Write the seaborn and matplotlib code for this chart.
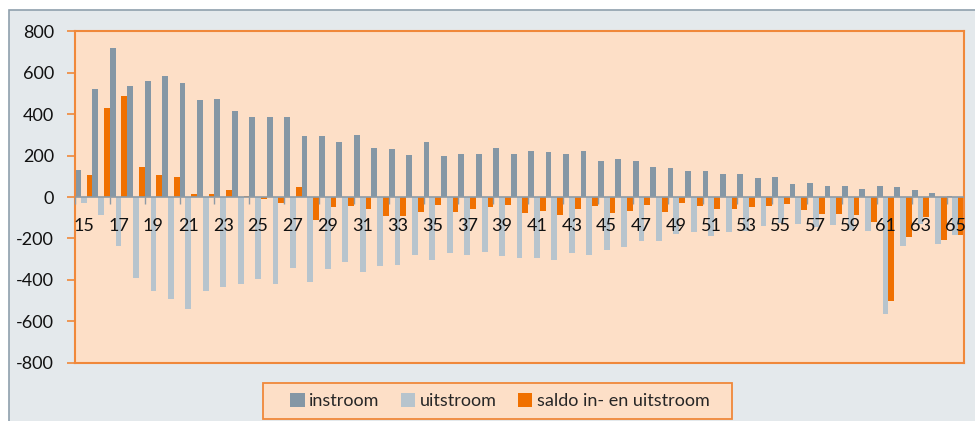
import numpy as np
import pandas as pd
import matplotlib
matplotlib.use("Agg")
import matplotlib.pyplot as plt
from matplotlib.patches import Rectangle
from matplotlib.ticker import FixedLocator
import seaborn as sns

ages = list(range(15, 66))
instroom = [132, 523, 720, 536, 559, 586, 551, 467, 473, 415,
            388, 388, 388, 296, 296, 267, 302, 239, 231, 204,
            267, 197, 210, 210, 239, 210, 225, 216, 210, 225,
            174, 183, 174, 147, 139, 124, 124, 111, 111, 90,
            97, 61, 68, 55, 55, 40, 55, 47, 32, 19, 3]
uitstroom = [-29, -86, -236, -393, -456, -490, -540, -456, -433, -420,
             -397, -420, -341, -412, -349, -313, -363, -334, -328, -278,
             -305, -271, -278, -263, -286, -292, -292, -305, -271, -278,
             -257, -242, -213, -213, -179, -171, -186, -171, -165, -142,
             -123, -129, -146, -135, -160, -163, -567, -235, -130, -227, -184]
saldo = [105, 431, 488, 147, 105, 97, 13, 13, 32, 3,
         -10, -29, 47, -113, -50, -44, -58, -92, -92, -73,
         -36, -73, -58, -50, -36, -78, -65, -86, -58, -44,
         -78, -65, -36, -73, -29, -44, -58, -58, -50, -43,
         -35, -64, -80, -80, -87, -121, -504, -193, -97, -206, -184]
series_names = ["instroom", "uitstroom", "saldo in- en uitstroom"]
y_ticks = [-800, -600, -400, -200, 0, 200, 400, 600, 800]

colors = ["#8597A5", "#B7C4CD", "#F07000"]
peach = "#FDDFC7"
frame_bg = "#E4E9EC"
orange_line = "#F0883A"
gray_axis = "#8E9BA6"

df = pd.DataFrame({
    "age": [str(a) for a in ages] * 3,
    "value": instroom + uitstroom + saldo,
    "series": sum([[n] * len(ages) for n in series_names], []),
})

sns.set_theme(style="white")
plt.rcParams["font.family"] = ["Lato", "DejaVu Sans"]
plt.rcParams["axes.unicode_minus"] = False

fig = plt.figure(figsize=(9.75, 4.21), dpi=100, facecolor="white")
bg = Rectangle((9 / 975, -0.01), 1.0, (421 - 10) / 421 + 0.01,
               transform=fig.transFigure, facecolor=frame_bg,
               edgecolor="#8FA0AD", linewidth=1.2, zorder=-10)
fig.patches.append(bg)
legbox = Rectangle((263 / 975, 1 - 419 / 421), (732 - 263) / 975, 36 / 421,
                   transform=fig.transFigure, facecolor=peach,
                   edgecolor=orange_line, linewidth=1.3, zorder=-5)
fig.patches.append(legbox)

ax = fig.add_axes([75 / 975, 1 - 362.7 / 421, (964 - 75) / 975, (362.7 - 31.5) / 421])
ax.set_facecolor(peach)

sns.barplot(data=df, x="age", y="value", hue="series", hue_order=series_names,
            palette=colors, width=1.0, dodge=True, ax=ax, legend=True,
            saturation=1, linewidth=0, zorder=2)

ax.set_xlim(-0.5, len(ages) - 0.5)
ax.set_ylim(-800, 800)
ax.set_yticks(y_ticks)
ax.set_yticklabels([str(v) for v in y_ticks])
ax.set_xlabel("")
ax.set_ylabel("")
ax.tick_params(axis="y", colors=orange_line, length=6, width=1.2, direction="out",
               pad=9, labelsize=13, labelcolor="#111111", left=True)
ax.tick_params(axis="x", bottom=False, labelbottom=False)
for s in ax.spines.values():
    s.set_color(orange_line)
    s.set_linewidth(1.5)
ax.grid(False)

ax.axhline(0, color=gray_axis, linewidth=1.2, zorder=3)

sec = ax.secondary_xaxis(0.5)
sec.set_alignment("bottom")
sec.set_zorder(10)
pos = np.arange(len(ages))
sec.set_xticks(pos[::2])
sec.set_xticklabels([str(a) for a in ages[::2]])
sec.xaxis.set_minor_locator(FixedLocator(np.arange(-0.5, len(ages), 2)))
sec.tick_params(axis="x", which="major", length=0, pad=15, labelsize=13, labelcolor="#111111")
sec.tick_params(axis="x", which="minor", length=5, width=1, color=gray_axis, direction="out")
for s in sec.spines.values():
    s.set_visible(False)
for t in sec.get_xticklabels():
    t.set_clip_on(False)

handles, labels = ax.get_legend_handles_labels()
ax.get_legend().remove()
leg = fig.legend(handles, labels, loc="center", bbox_to_anchor=(500 / 975, 1 - 401 / 421),
                 ncol=3, frameon=False, fontsize=13,
                 handlelength=0.78, handleheight=0.78, handletextpad=0.25,
                 columnspacing=1.2, borderpad=0.45)

fig.savefig("out.png", dpi=100, facecolor="white")
